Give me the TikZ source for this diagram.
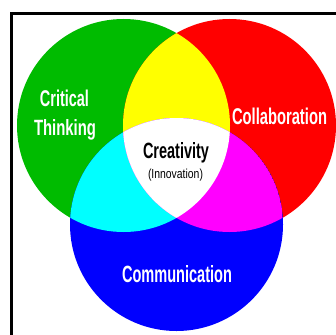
\documentclass[tikz,border=0pt]{standalone}
\usepackage{fontspec}
\setmainfont{Liberation Sans}
\usepackage{graphicx}
\definecolor{vgreen}{RGB}{0,187,0}
\definecolor{vred}{RGB}{255,0,0}
\definecolor{vblue}{RGB}{0,0,255}
\definecolor{vyellow}{RGB}{255,255,0}
\definecolor{vcyan}{RGB}{0,255,255}
\definecolor{vmagenta}{RGB}{255,0,255}
\tikzset{
  lbl/.style={inner sep=0pt, anchor=base, text=white, font=\bfseries},
  clbl/.style={inner sep=0pt, anchor=base, text=black, font=\bfseries},
  frame/.style={line width=3pt, draw=black}
}
\begin{document}
\begin{tikzpicture}[x=1pt,y=-1pt]
\useasboundingbox (0,0) rectangle (336,334);
\clip (0,0) rectangle (336,334);
\fill[white] (0,0) rectangle (336,334);
\draw[frame] (11.5,13.5) rectangle (420,420);
\coordinate (G) at (123.5,125.5);
\coordinate (R) at (229.5,125.5);
\coordinate (B) at (176.5,224.5);
\def\rad{106.5pt}
\fill[vgreen] (G) circle[radius=\rad];
\fill[vred] (R) circle[radius=\rad];
\fill[vblue] (B) circle[radius=\rad];
\begin{scope}
  \clip (G) circle[radius=\rad];
  \fill[vyellow] (R) circle[radius=\rad];
  \fill[vcyan] (B) circle[radius=\rad];
  \clip (R) circle[radius=\rad];
  \fill[white] (B) circle[radius=\rad];
\end{scope}
\begin{scope}
  \clip (R) circle[radius=\rad];
  \clip (B) circle[radius=\rad];
  \fill[vmagenta] (B) circle[radius=\rad];
  \clip (G) circle[radius=\rad];
  \fill[white] (B) circle[radius=\rad];
\end{scope}
\node[lbl] (crit) at (64.5,106) {\resizebox{49pt}{16.5pt}{Critical}};
\node[lbl] (think) at (65,135) {\resizebox{62pt}{16pt}{Thinking}};
\node[lbl] (collab) at (279.5,124.5) {\resizebox{95pt}{16.5pt}{Collaboration}};
\node[lbl] (comm) at (177,282) {\resizebox{110pt}{17pt}{Communication}};
\node[clbl] (creat) at (176,158.5) {\resizebox{66pt}{16pt}{Creativity}};
\node[clbl] (innov) at (175.5,178) {\resizebox{55pt}{9.5pt}{\fontseries{m}\selectfont(Innovation)}};
\end{tikzpicture}
\end{document}
